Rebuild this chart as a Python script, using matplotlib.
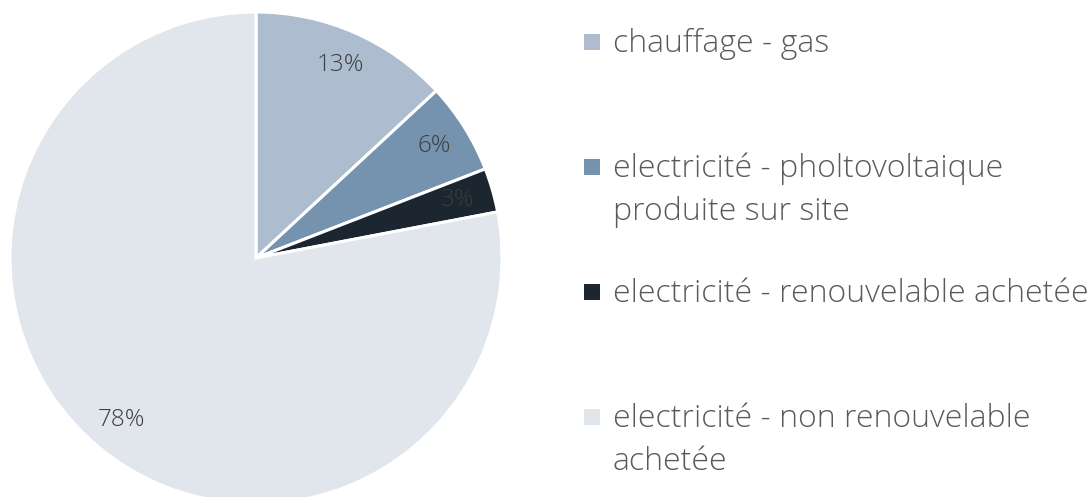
import matplotlib
matplotlib.use("Agg")
import matplotlib.pyplot as plt
from matplotlib.patches import Rectangle

labels = ["chauffage - gas",
          "electricité - pholtovoltaique\nproduite sur site",
          "electricité - renouvelable achetée",
          "electricité - non renouvelable\nachetée"]
values = [13.1, 6.0, 2.9, 78.0]
colors = ["#adbdcf", "#7592ae", "#1c2631", "#e1e6ed"]

W, H = 1089, 497
fig = plt.figure(figsize=(W / 100, H / 100), dpi=100)
ax = fig.add_axes([0, 0, 1, 1])

font = "Open Sans"
wedges, texts, autotexts = ax.pie(
    values, colors=colors, startangle=90, counterclock=False,
    center=(256, H - 258), radius=246, frame=True,
    autopct="%.0f%%", pctdistance=0.855,
    wedgeprops=dict(edgecolor="white", linewidth=2.2),
    textprops=dict(family=font, fontsize=17.5, color="#3f3f3f"))
ax.set_xlim(0, W)
ax.set_ylim(0, H)
ax.set_aspect("equal")
ax.axis("off")
for t in autotexts:
    t.set_fontweight("light")
autotexts[2].set_color("#3a3a3a")

baselines = [52, 177, 302, 427]
line_gap = 43
for lab, col, yb in zip(labels, colors, baselines):
    ax.add_patch(Rectangle((584, H - yb + 2), 16, 16, facecolor=col, edgecolor="none"))
    for i, line in enumerate(lab.split("\n")):
        ax.text(613, H - yb - i * line_gap, line, family=font, fontsize=23,
                fontweight="light", color="#5a5a5a", va="baseline", ha="left")

fig.savefig("out.png", dpi=100)
